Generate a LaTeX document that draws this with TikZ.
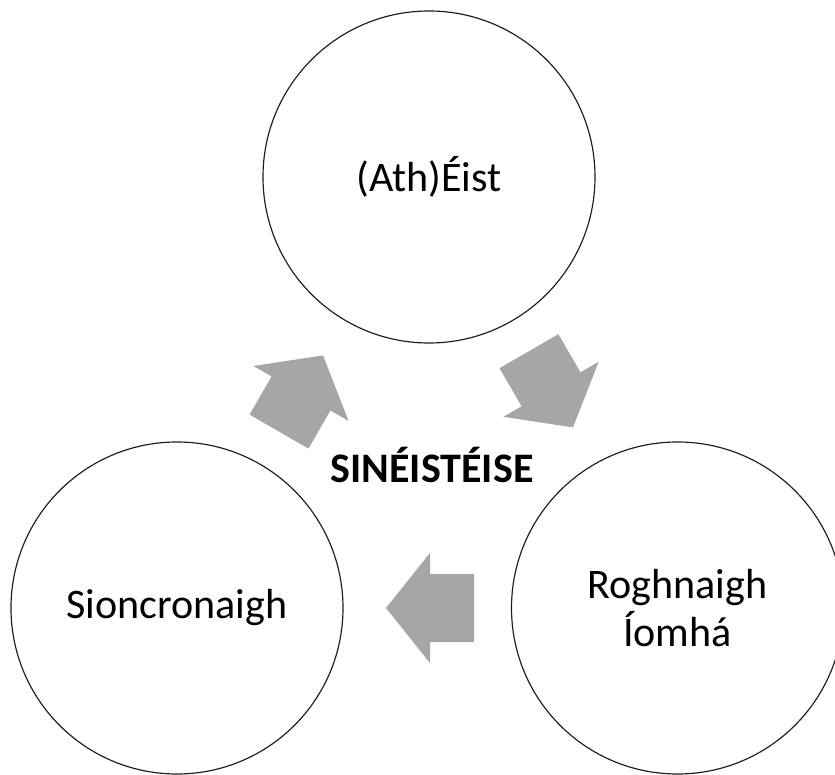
\documentclass[tikz,border=0pt]{standalone}
\usepackage{fontspec}
\setmainfont{Carlito}
\usepackage{tikz}

\definecolor{arrowgray}{RGB}{166,166,166}
\definecolor{ringline}{RGB}{30,30,30}

\begin{document}
\begin{tikzpicture}[x=0.03cm, y=0.03cm,
  stage/.style={circle, draw=ringline, line width=1pt, minimum size=9.96cm, inner sep=0pt,
    align=center, font=\fontsize{35.9}{41.7}\selectfont},
  blockarrow/.style={fill=arrowgray, draw=none}]
  \useasboundingbox (0,0) rectangle (835,774);
  % Nodes
  \node (eist) [stage] at (429, 597) {(Ath)Éist};
  \node (sionc) [stage] at (177, 166) {Sioncronaigh};
  \node (rogh) [stage] at (677.5, 166) {Roghnaigh\\Íomhá};
  \node (title) [font=\fontsize{35.9}{41.7}\selectfont\bfseries, anchor=base] at (432, 291) {SINÉISTÉISE};
  % Arrows
  \foreach \x/\y/\a in {301/380.5/60, 551/384.7/-60, 430/166/180}
    \fill[blockarrow, shift={(\x,\y)}, rotate=\a]
      (-44,-34) -- (0,-34) -- (0,-55) -- (44,0) -- (0,55) -- (0,34) -- (-44,34) -- cycle;
\end{tikzpicture}
\end{document}
